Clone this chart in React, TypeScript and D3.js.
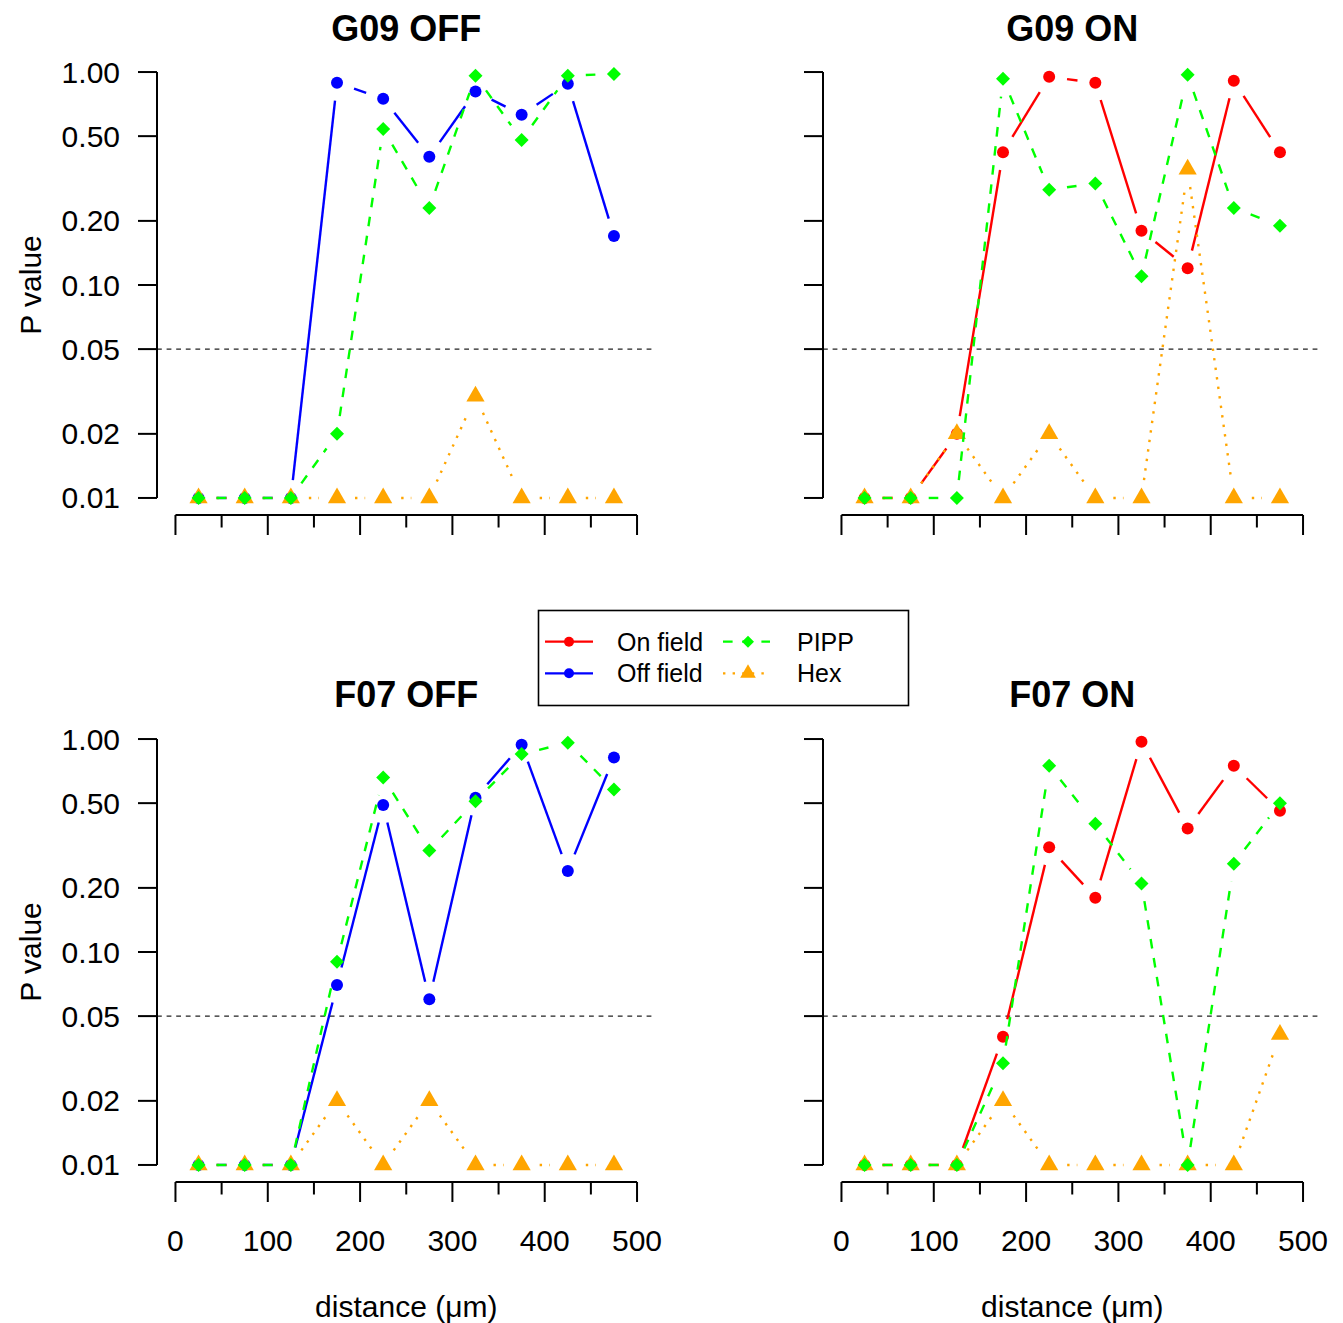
import React from "react";
import * as d3 from "d3";

// ---------- data ----------
const distances = [25, 75, 125, 175, 225, 275, 325, 375, 425, 475];
const panelTitles = ["G09 OFF", "G09 ON", "F07 OFF", "F07 ON"];

const g09OffField = [0.01, 0.01, 0.01, 0.89, 0.75, 0.40, 0.81, 0.63, 0.88, 0.17];
const g09OffPipp = [0.01, 0.01, 0.01, 0.02, 0.54, 0.23, 0.96, 0.48, 0.96, 0.98];
const g09OffHex = [0.01, 0.01, 0.01, 0.01, 0.01, 0.01, 0.03, 0.01, 0.01, 0.01];

const g09OnField = [0.01, 0.01, 0.02, 0.42, 0.95, 0.89, 0.18, 0.12, 0.91, 0.42];
const g09OnPipp = [0.01, 0.01, 0.01, 0.93, 0.28, 0.30, 0.11, 0.97, 0.23, 0.19];
const g09OnHex = [0.01, 0.01, 0.02, 0.01, 0.02, 0.01, 0.01, 0.35, 0.01, 0.01];

const f07OffField = [0.01, 0.01, 0.01, 0.07, 0.49, 0.06, 0.53, 0.94, 0.24, 0.82];
const f07OffPipp = [0.01, 0.01, 0.01, 0.09, 0.66, 0.30, 0.51, 0.85, 0.96, 0.58];
const f07OffHex = [0.01, 0.01, 0.01, 0.02, 0.01, 0.02, 0.01, 0.01, 0.01, 0.01];

const f07OnField = [0.01, 0.01, 0.01, 0.04, 0.31, 0.18, 0.97, 0.38, 0.75, 0.46];
const f07OnPipp = [0.01, 0.01, 0.01, 0.03, 0.75, 0.40, 0.21, 0.01, 0.26, 0.50];
const f07OnHex = [0.01, 0.01, 0.01, 0.02, 0.01, 0.01, 0.01, 0.01, 0.01, 0.041];

const yTicks = [1, 0.5, 0.2, 0.1, 0.05, 0.02, 0.01];
const yTickLabels = ["1.00", "0.50", "0.20", "0.10", "0.05", "0.02", "0.01"];
const xMajor = [0, 100, 200, 300, 400, 500];
const xMinor = [50, 150, 250, 350, 450];
const threshold = 0.05;
const legendLabels = ["On field", "Off field", "PIPP", "Hex"];

// ---------- styles ----------
const FONT = "'Liberation Sans', Arial, Helvetica, sans-serif";
const RED = "#FF0000";
const BLUE = "#0000FF";
const GREEN = "#00FF00";
const ORANGE = "#FFA500";
const LW = 2.4;
const GAP = 18;

const panels = [
  { title: panelTitles[0], field: g09OffField, fieldColor: BLUE, pipp: g09OffPipp, hex: g09OffHex, col: 0, row: 0 },
  { title: panelTitles[1], field: g09OnField, fieldColor: RED, pipp: g09OnPipp, hex: g09OnHex, col: 1, row: 0 },
  { title: panelTitles[2], field: f07OffField, fieldColor: BLUE, pipp: f07OffPipp, hex: f07OffHex, col: 0, row: 1 },
  { title: panelTitles[3], field: f07OnField, fieldColor: RED, pipp: f07OnPipp, hex: f07OnHex, col: 1, row: 1 },
];

const colX = [[157, 655.5], [823, 1321.5]];
const rowY = [[55, 515], [722, 1182]];

function gappedSegments(pts: [number, number][]) {
  const segs: [number, number, number, number][] = [];
  for (let i = 0; i < pts.length - 1; i++) {
    const [x1, y1] = pts[i];
    const [x2, y2] = pts[i + 1];
    const dx = x2 - x1, dy = y2 - y1;
    const len = Math.hypot(dx, dy);
    if (len <= 2 * GAP) continue;
    const ux = dx / len, uy = dy / len;
    segs.push([x1 + ux * GAP, y1 + uy * GAP, x2 - ux * GAP, y2 - uy * GAP]);
  }
  return segs;
}

function triPath(x: number, y: number, r: number) {
  return `M${x},${y - r}L${x + 0.866 * r},${y + r / 2}L${x - 0.866 * r},${y + r / 2}Z`;
}
function diaPath(x: number, y: number, r: number) {
  return `M${x},${y - r}L${x + r},${y}L${x},${y + r}L${x - r},${y}Z`;
}

function Series({ vals, xs, ys, color, dash, shape, size }: any) {
  const pts: [number, number][] = vals.map((v: number, i: number) => [xs(distances[i]), ys(v)]);
  const segs = gappedSegments(pts);
  return (
    <g>
      {segs.map((s, i) => (
        <line key={"l" + i} x1={s[0]} y1={s[1]} x2={s[2]} y2={s[3]} stroke={color} strokeWidth={LW} strokeDasharray={dash} />
      ))}
      {pts.map((p, i) =>
        shape === "circle" ? (
          <circle key={"p" + i} cx={p[0]} cy={p[1]} r={size} fill={color} />
        ) : shape === "tri" ? (
          <path key={"p" + i} d={triPath(p[0], p[1], size)} fill={color} />
        ) : (
          <path key={"p" + i} d={diaPath(p[0], p[1], size)} fill={color} />
        )
      )}
    </g>
  );
}

function Panel({ p }: any) {
  const [x0, x1] = colX[p.col];
  const [y0, y1] = rowY[p.row];
  const xs = d3.scaleLinear().domain([-20, 520]).range([x0, x1]);
  const ys = d3.scaleLog().domain([Math.pow(10, 0.08), Math.pow(10, -2.08)]).range([y0, y1]);
  const cx = (x0 + x1) / 2;
  const cy = (y0 + y1) / 2;
  const showY = p.col === 0;
  const showX = p.row === 1;
  return (
    <g>
      <text x={cx} y={p.row === 0 ? 41 : 707} textAnchor="middle" fontSize={36} fontWeight="bold" fontFamily={FONT}>
        {p.title}
      </text>
      {/* threshold line */}
      <line x1={x0} x2={x1 - 3} y1={ys(threshold)} y2={ys(threshold)} stroke="#222" strokeWidth={1.2} strokeDasharray="4.8,4.8" />
      {/* y axis */}
      <line x1={x0} x2={x0} y1={ys(1)} y2={ys(0.01)} stroke="#000" strokeWidth={2} />
      {yTicks.map((t, i) => (
        <g key={"yt" + i}>
          <line x1={x0 - 19} x2={x0} y1={ys(t)} y2={ys(t)} stroke="#000" strokeWidth={2} />
          {showY && (
            <text x={x0 - 37} y={ys(t) + 10.5} textAnchor="end" fontSize={30} fontFamily={FONT}>
              {yTickLabels[i]}
            </text>
          )}
        </g>
      ))}
      {showY && (
        <text transform={`translate(41,${cy}) rotate(-90)`} textAnchor="middle" fontSize={30} fontFamily={FONT}>
          P value
        </text>
      )}
      {/* x axis */}
      <line x1={xs(0)} x2={xs(500)} y1={y1} y2={y1} stroke="#000" strokeWidth={2} />
      <line x1={xs(50)} x2={xs(450)} y1={y1} y2={y1} stroke="#000" strokeWidth={1} />
      {xMajor.map((t) => (
        <g key={"xm" + t}>
          <line x1={xs(t)} x2={xs(t)} y1={y1} y2={y1 + 20} stroke="#000" strokeWidth={2} />
          {showX && (
            <text x={xs(t)} y={y1 + 69} textAnchor="middle" fontSize={30} fontFamily={FONT}>
              {t}
            </text>
          )}
        </g>
      ))}
      {xMinor.map((t) => (
        <line key={"xn" + t} x1={xs(t)} x2={xs(t)} y1={y1} y2={y1 + 12.5} stroke="#000" strokeWidth={2} />
      ))}
      {showX && (
        <text x={cx} y={1317} textAnchor="middle" fontSize={30} fontFamily={FONT}>
          distance (μm)
        </text>
      )}
      <Series vals={p.field} xs={xs} ys={ys} color={p.fieldColor} dash={undefined} shape="circle" size={6} />
      <Series vals={p.hex} xs={xs} ys={ys} color={ORANGE} dash="2.4,7.2" shape="tri" size={10.5} />
      <Series vals={p.pipp} xs={xs} ys={ys} color={GREEN} dash="9.6,9.6" shape="dia" size={7} />
    </g>
  );
}

function Legend() {
  const rows = [641.7, 673.3];
  const items = [
    { label: legendLabels[0], color: RED, dash: undefined, shape: "circle", lx: 545, rx: 593, px: 569, tx: 617, y: rows[0] },
    { label: legendLabels[1], color: BLUE, dash: undefined, shape: "circle", lx: 545, rx: 593, px: 569, tx: 617, y: rows[1] },
    { label: legendLabels[2], color: GREEN, dash: "9.6,9.6", shape: "dia", lx: 723, rx: 770, px: 748, tx: 797, y: rows[0] },
    { label: legendLabels[3], color: ORANGE, dash: "2.4,7.2", shape: "tri", lx: 723, rx: 770, px: 748, tx: 797, y: rows[1] },
  ];
  return (
    <g>
      <rect x={538.5} y={610.5} width={370} height={95} fill="#fff" stroke="#000" strokeWidth={1.6} />
      {items.map((it, i) => (
        <g key={i}>
          <line x1={it.lx} x2={it.rx} y1={it.y} y2={it.y} stroke={it.color} strokeWidth={2.2} strokeDasharray={it.dash} />
          {it.shape === "circle" ? (
            <circle cx={it.px} cy={it.y} r={5} fill={it.color} />
          ) : it.shape === "tri" ? (
            <path d={triPath(it.px, it.y, 9)} fill={it.color} />
          ) : (
            <path d={diaPath(it.px, it.y, 6)} fill={it.color} />
          )}
          <text x={it.tx} y={it.y + 9} fontSize={25} fontFamily={FONT}>
            {it.label}
          </text>
        </g>
      ))}
    </g>
  );
}

export default function App() {
  return (
    <div style={{ position: "absolute", left: 0, top: 0 }}>
      <svg width={1343} height={1323} viewBox="0 0 1343 1323" style={{ display: "block", background: "#fff" }}>
        <rect x={0} y={0} width={1343} height={1323} fill="#fff" />
        {panels.map((p, i) => (
          <Panel key={i} p={p} />
        ))}
        <Legend />
      </svg>
    </div>
  );
}
